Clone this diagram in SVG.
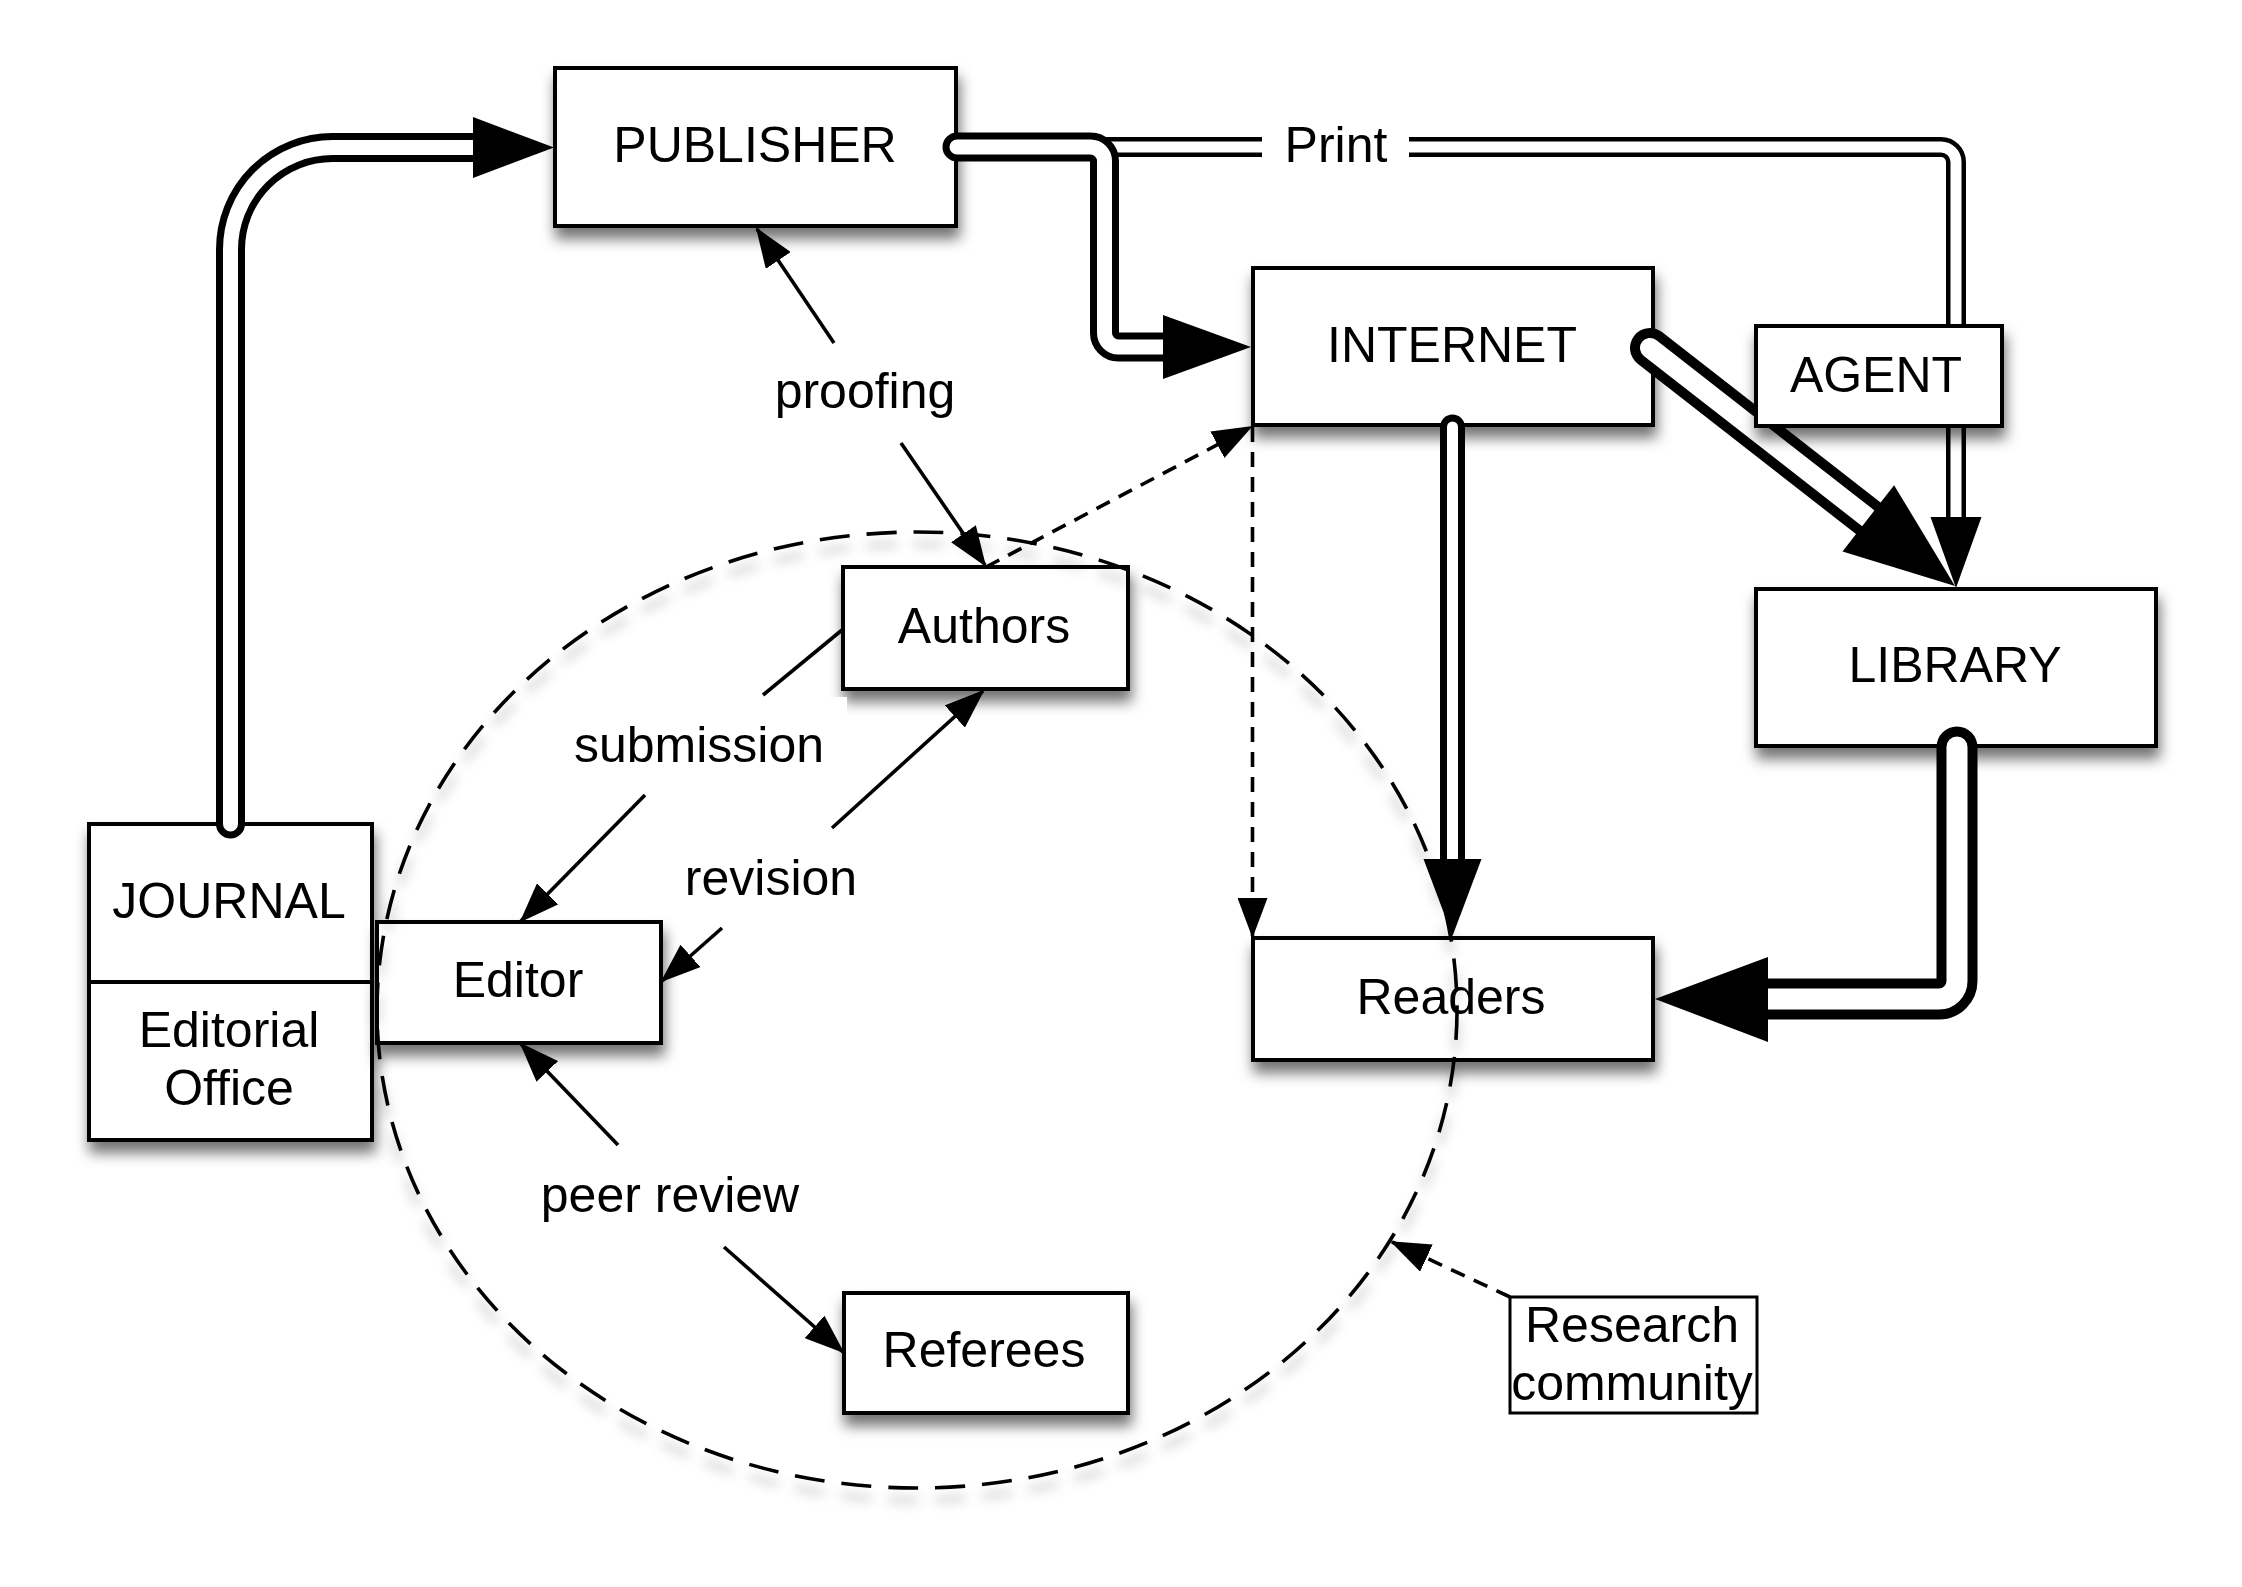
<svg xmlns="http://www.w3.org/2000/svg" width="2242" height="1587" viewBox="0 0 2242 1587">
<style>
.box{fill:#fff;stroke:#000;stroke-width:4}
.t{font-family:"Liberation Sans",Arial,Helvetica,sans-serif;font-size:50px;fill:#000;text-anchor:middle}
.po{fill:none;stroke:#000;stroke-linecap:round;stroke-linejoin:round}
.pi{fill:none;stroke:#fff;stroke-linecap:round;stroke-linejoin:round}
.thin{fill:none;stroke:#000;stroke-width:3.6}
.dash{stroke-dasharray:15 10}
.head{fill:#000}
</style>
<defs>
<filter id="sh" x="-20%" y="-20%" width="140%" height="160%">
<feDropShadow dx="2" dy="11" stdDeviation="7" flood-color="#000" flood-opacity="0.55"/>
</filter>
<filter id="esh" x="-10%" y="-10%" width="120%" height="125%">
<feDropShadow dx="0" dy="12" stdDeviation="6" flood-color="#000" flood-opacity="0.3"/>
</filter>
<marker id="ah" markerUnits="userSpaceOnUse" viewBox="0 0 40 30" refX="38" refY="15" markerWidth="40" markerHeight="30" orient="auto">
<path d="M0,0 L40,15 L0,30 z" fill="#000"/>
</marker>
</defs>
<rect width="2242" height="1587" fill="#fff"/>

<g id="node-publisher">
<rect class="box" x="555" y="68" width="401" height="158" filter="url(#sh)"/>
<text class="t" x="755" y="162">PUBLISHER</text>
</g>
<g id="node-internet">
<rect class="box" x="1253" y="268" width="400" height="157" filter="url(#sh)"/>
<text class="t" x="1452" y="362">INTERNET</text>
</g>
<g id="node-library">
<rect class="box" x="1756" y="589" width="400" height="157" filter="url(#sh)"/>
<text class="t" x="1955" y="682">LIBRARY</text>
</g>
<g id="node-authors">
<rect class="box" x="843" y="567" width="285" height="122" filter="url(#sh)"/>
<text class="t" x="984" y="643">Authors</text>
</g>
<g id="node-journal">
<rect class="box" x="89" y="824" width="283" height="316" filter="url(#sh)"/>
<line x1="89" y1="982" x2="372" y2="982" stroke="#000" stroke-width="4"/>
<text class="t" x="229" y="918">JOURNAL</text>
<text class="t" x="229" y="1047">Editorial</text>
<text class="t" x="229" y="1105">Office</text>
</g>
<g id="node-editor">
<rect class="box" x="377" y="922" width="284" height="121" filter="url(#sh)"/>
<text class="t" x="518" y="997">Editor</text>
</g>
<g id="node-readers">
<rect class="box" x="1253" y="938" width="400" height="122" filter="url(#sh)"/>
<text class="t" x="1451" y="1014">Readers</text>
</g>
<g id="node-referees">
<rect class="box" x="844" y="1293" width="284" height="120" filter="url(#sh)"/>
<text class="t" x="984" y="1367">Referees</text>
</g>
<g id="node-research">
<rect x="1510" y="1297" width="247" height="116" fill="#fff" stroke="#000" stroke-width="3"/>
<text class="t" x="1632" y="1342">Research</text>
<text class="t" x="1632" y="1400">community</text>
</g>

<g id="connectors">
<path class="po" stroke-width="20" d="M957,147 L1941,147 A15,15 0 0 1 1956,162 L1956,517"/>
<path class="pi" stroke-width="11" d="M957,147 L1941,147 A15,15 0 0 1 1956,162 L1956,517"/>
<polygon class="head" points="1930.5,517 1956,588 1981.5,517"/>
<rect x="1262" y="122" width="147" height="50" fill="#fff"/>
<text class="t" x="1336" y="162">Print</text>
<path class="po" stroke-width="29" d="M230.5,824 L230.5,249.5 A102,102 0 0 1 332.5,147.5 L473,147.5"/>
<path class="pi" stroke-width="15" d="M230.5,824 L230.5,249.5 A102,102 0 0 1 332.5,147.5 L473,147.5"/>
<polygon class="head" points="473,117 554,147.5 473,178"/>
<path class="po" stroke-width="29" d="M957,147 L1090.5,147 A14,14 0 0 1 1104.5,161 L1104.5,333 A14,14 0 0 0 1118.5,347 L1163,347"/>
<path class="pi" stroke-width="15" d="M957,147 L1090.5,147 A14,14 0 0 1 1104.5,161 L1104.5,333 A14,14 0 0 0 1118.5,347 L1163,347"/>
<polygon class="head" points="1163,315 1251,347 1163,379"/>
<path class="po" stroke-width="40" d="M1650,348 L1868.3,518.3"/>
<path class="pi" stroke-width="20" d="M1650,348 L1868.3,518.3"/>
<polygon class="head" points="1842.5,551.4 1955,586 1894.1,485.2"/>
<path class="po" stroke-width="25" d="M1452.5,427 L1452.5,859"/>
<path class="pi" stroke-width="11" d="M1452.5,427 L1452.5,859"/>
<polygon class="head" points="1423.5,859 1452.5,936 1481.5,859"/>
<path class="po" stroke-width="41" d="M1957,747 L1957,981 A18,18 0 0 1 1939,999 L1768,999"/>
<path class="pi" stroke-width="21" d="M1957,747 L1957,981 A18,18 0 0 1 1939,999 L1768,999"/>
<polygon class="head" points="1768,957 1655,999 1768,1042"/>

<line class="thin" x1="834" y1="343" x2="757" y2="229" marker-end="url(#ah)"/>
<line class="thin" x1="901" y1="443" x2="985" y2="565" marker-end="url(#ah)"/>
<text class="t" x="865" y="408">proofing</text>
<rect x="551" y="697" width="296" height="93" fill="#fff"/>
<line class="thin" x1="842" y1="630" x2="763" y2="695"/>
<line class="thin" x1="645" y1="795" x2="521" y2="921" marker-end="url(#ah)"/>
<text class="t" x="699" y="762">submission</text>
<line class="thin" x1="832" y1="828" x2="983" y2="691" marker-end="url(#ah)"/>
<line class="thin" x1="722" y1="928" x2="662" y2="981" marker-end="url(#ah)"/>
<text class="t" x="771" y="895">revision</text>
<line class="thin" x1="618" y1="1145" x2="521" y2="1044" marker-end="url(#ah)"/>
<line class="thin" x1="724" y1="1247" x2="843" y2="1352" marker-end="url(#ah)"/>
<text class="t" x="670" y="1212">peer review</text>
<line class="thin dash" x1="986" y1="567" x2="1251" y2="427" marker-end="url(#ah)"/>
<line class="thin dash" x1="1252.5" y1="427" x2="1252.5" y2="936" marker-end="url(#ah)"/>
<line class="thin dash" x1="1510" y1="1297" x2="1392" y2="1242" marker-end="url(#ah)"/>
</g>

<g id="node-agent">
<rect class="box" x="1756" y="326" width="246" height="100" filter="url(#sh)"/>
<text class="t" x="1876" y="392">AGENT</text>
</g>

<g id="research-community-boundary">
<ellipse cx="917" cy="1010" rx="540" ry="478" fill="none" stroke="#000" stroke-width="3.6" stroke-dasharray="30 17" filter="url(#esh)"/>
</g>
</svg>
